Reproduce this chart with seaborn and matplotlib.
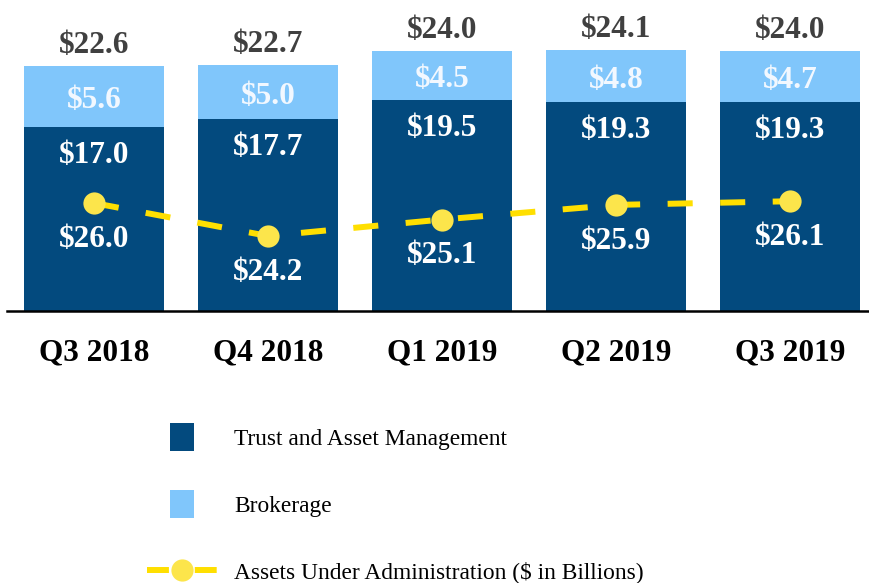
import numpy as np
import pandas as pd
import seaborn as sns
import matplotlib.pyplot as plt
from matplotlib.patches import Patch
from matplotlib.lines import Line2D

# dati (miliardi di $)
quarters = ['Q3 2018', 'Q4 2018', 'Q1 2019', 'Q2 2019', 'Q3 2019']
trust = [17.0, 17.7, 19.5, 19.3, 19.3]
brokerage = [5.6, 5.0, 4.5, 4.8, 4.7]
aua = [26.0, 24.2, 25.1, 25.9, 26.1]

totals = [round(t + b, 1) for t, b in zip(trust, brokerage)]

dark_blue = '#034A7E'
light_blue = '#80C6FB'
yellow = '#FFDF00'
marker_yellow = '#FCE54B'

sns.set_style('white')
plt.rcParams['font.family'] = ['Liberation Serif', 'DejaVu Serif']
plt.rcParams['text.color'] = 'black'

df = pd.DataFrame({'quarter': quarters, 'trust': trust,
                   'brokerage': brokerage, 'total': totals, 'aua': aua})

fig = plt.figure(figsize=(8.69, 5.83), dpi=100)
ax = fig.add_axes([7 / 869, 1 - 311 / 583, 862 / 869, 311 / 583])

# barre impilate: prima il totale (chiaro), poi trust (scuro) sopra
sns.barplot(data=df, x='quarter', y='total', color=light_blue, saturation=1,
            width=0.805, linewidth=0, ax=ax)
sns.barplot(data=df, x='quarter', y='trust', color=dark_blue, saturation=1,
            width=0.805, linewidth=0, ax=ax)

ax.set_xlim(-0.5, 4.454)
ax.set_ylim(0, 28.7)
ax.set_xlabel('')
ax.set_ylabel('')
ax.set_yticks([])
for s in ['top', 'left', 'right']:
    ax.spines[s].set_visible(False)
ax.spines['bottom'].set_color('black')
ax.spines['bottom'].set_linewidth(1.8)
ax.tick_params(axis='x', length=0, pad=20)
ax.set_xticks(range(len(quarters)))
ax.set_xticklabels(quarters, fontsize=22.5, fontweight='bold', color='black')

fsz = 22.5
for i in range(len(quarters)):
    ax.annotate(f'${trust[i]:.1f}', (i, trust[i]), xytext=(0, -20.5),
                textcoords='offset points', ha='center', va='center',
                fontsize=fsz, fontweight='bold', color='white')
    ax.annotate(f'${brokerage[i]:.1f}', (i, trust[i] + brokerage[i] / 2),
                xytext=(0, -3), textcoords='offset points',
                ha='center', va='center', fontsize=fsz, fontweight='bold',
                color='#F2F8FF')
    ax.annotate(f'${totals[i]:.1f}', (i, totals[i]), xytext=(0, 15),
                textcoords='offset points', ha='center', va='center',
                fontsize=fsz, fontweight='bold', color='#404040')

# linea AUA su asse secondario
ax2 = ax.twinx()
sns.lineplot(x=list(range(len(quarters))), y=aua, ax=ax2, color=yellow,
             linewidth=4.3, linestyle=(0, (4.2, 4.6)), marker='o',
             markersize=16, markerfacecolor=marker_yellow,
             markeredgecolor=marker_yellow, markeredgewidth=0)
ax2.set_ylim(20.1, 37.1)
ax2.set_xlim(-0.5, 4.454)
ax2.axis('off')

for i in range(len(quarters)):
    ax2.annotate(f'${aua[i]:.1f}', (i, aua[i]), xytext=(0, -26),
                 textcoords='offset points', ha='center', va='center',
                 fontsize=fsz, fontweight='bold', color='white')

# legenda
fs = 16.8
h1 = Patch(facecolor=dark_blue, edgecolor='none')
h2 = Patch(facecolor=light_blue, edgecolor='none')
h3 = Line2D([], [], color=yellow, linewidth=4.3, linestyle=(0, (3.67, 4.33)),
            marker='o', markersize=16, markerfacecolor=marker_yellow,
            markeredgecolor=marker_yellow, markeredgewidth=0)

fig.legend([h1], ['Trust and Asset Management'], loc='center left',
           bbox_to_anchor=(170 / 869, 1 - 437 / 583), frameon=False,
           fontsize=fs, handlelength=1.03, handleheight=1.5,
           handletextpad=1.72, borderpad=0, borderaxespad=0,
           labelcolor='black')
fig.legend([h2], ['Brokerage'], loc='center left',
           bbox_to_anchor=(170 / 869, 1 - 504 / 583), frameon=False,
           fontsize=fs, handlelength=1.03, handleheight=1.5,
           handletextpad=1.72, borderpad=0, borderaxespad=0,
           labelcolor='black')
fig.legend([h3], ['Assets Under Administration ($ in Billions)'],
           loc='center left', bbox_to_anchor=(147 / 869, 1 - 572 / 583),
           frameon=False, fontsize=fs, handlelength=3.0,
           handletextpad=0.72, borderpad=0, borderaxespad=0,
           labelcolor='black')

plt.savefig('out.png', dpi=100)
